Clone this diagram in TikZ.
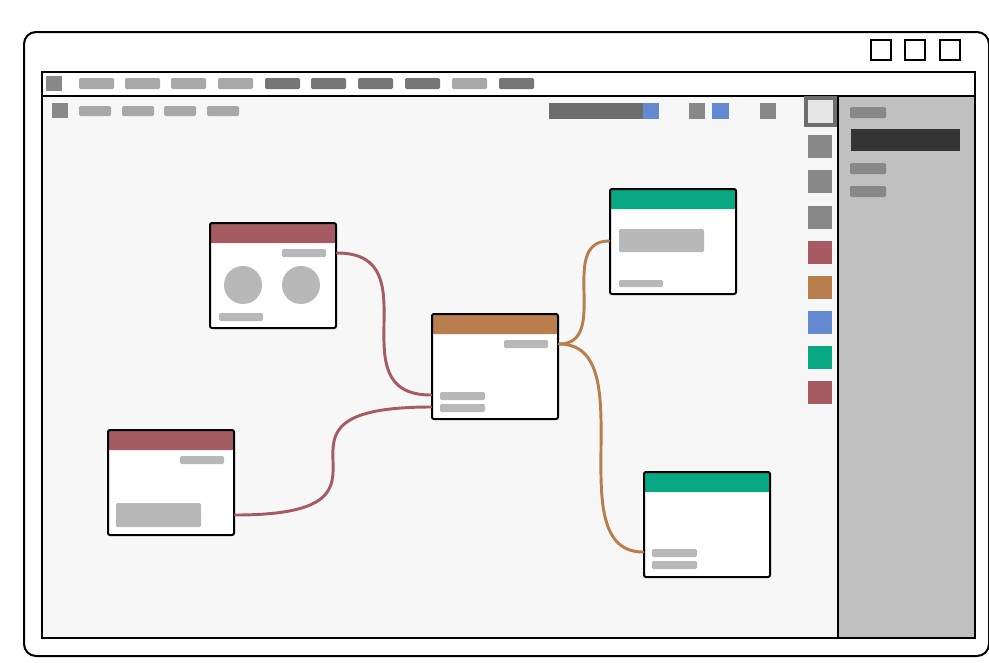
\documentclass[tikz,border=0pt]{standalone}
\usetikzlibrary{calc}
\definecolor{canvasbg}{HTML}{F7F7F7}
\definecolor{panelbg}{HTML}{C0C0C0}
\definecolor{menulight}{HTML}{A8A8A8}
\definecolor{menudark}{HTML}{767676}
\definecolor{toolgray}{HTML}{888888}
\definecolor{stubgray}{HTML}{B8B8B8}
\definecolor{barDark}{HTML}{6D6D6D}
\definecolor{panelDark}{HTML}{333333}
\definecolor{selfill}{HTML}{E6E6E6}
\definecolor{wred}{HTML}{A65A62}
\definecolor{worange}{HTML}{B87E4C}
\definecolor{wgreen}{HTML}{08A882}
\definecolor{wblue}{HTML}{6389D0}
\tikzset{
  px/.style={x=0.75pt,y=-0.75pt},
  chip/.style={fill=#1,rounded corners=1pt},
  card/.style={fill=white,draw=black,line width=1.5pt,rounded corners=1.5pt,
    minimum width=94.5pt,minimum height=78.75pt,anchor=north west,inner sep=0pt,
    path picture={\fill[#1] (path picture bounding box.north west) rectangle
      ([yshift=-15pt]path picture bounding box.north east);}},
  stub/.style={fill=stubgray,rounded corners=1pt},
  wire/.style={draw=#1,line width=2.2pt,line cap=round},
}
\begin{document}
\begin{tikzpicture}[px]
\useasboundingbox (0,0) rectangle (989,662);
% application window
\draw[line width=1.5pt,rounded corners=9pt,fill=white] (24,32) rectangle (989,656);
\foreach \bx in {871,905,940} \draw[line width=1pt] (\bx,40) rectangle ++(20,20);
% work area frame
\fill[canvasbg] (42,96) rectangle (838,638);
\fill[panelbg] (838,96) rectangle (975,638);
\draw[line width=1pt] (838,96) -- (838,638);
\draw[line width=1pt] (42,96) -- (975,96);
\draw[line width=1.5pt] (42,72) rectangle (975,638);
% menu bar
\fill[toolgray] (46,76) rectangle (62,91);
\foreach \mx/\mc in {79/menulight,125/menulight,171/menulight,218/menulight,265/menudark,311/menudark,358/menudark,405/menudark,452/menulight,499/menudark}
  \fill[chip=\mc] (\mx,78) rectangle ++(35,11);
% tool row
\fill[toolgray] (52,103) rectangle (68,118);
\foreach \tx in {79,122,164,207} \fill[chip=menulight] (\tx,106) rectangle ++(32,10);
\fill[barDark] (549,103) rectangle (643,119);
\fill[wblue] (643,103) rectangle (659,119);
\fill[toolgray] (689,103) rectangle (705,119);
\fill[wblue] (712,103) rectangle (729,119);
\fill[toolgray] (760,103) rectangle (776,119);
% palette
\draw[draw=barDark,line width=3.5pt,fill=selfill] (806,98) rectangle (835,125);
\foreach \py/\pc in {135/toolgray,170/toolgray,206/toolgray,241/wred,276/worange,311/wblue,346/wgreen,381/wred}
  \fill[\pc] (808,\py) rectangle ++(24,23);
% properties panel
\fill[chip=toolgray] (850,107) rectangle (886,118);
\fill[panelDark] (851,129) rectangle (960,151);
\fill[chip=toolgray] (850,163) rectangle (886,174);
\fill[chip=toolgray] (850,186) rectangle (886,197);
% graph nodes
\node[card=wred] (A) at (209,222) {};
\node[card=worange] (B) at (431,313) {};
\node[card=wred] (C) at (107,429) {};
\node[card=wgreen] (D) at (609,188) {};
\node[card=wgreen] (E) at (643,471) {};
% node contents
\fill[stub] (282,249) rectangle (326,257);
\fill[stubgray] (243,285) circle (19);
\fill[stubgray] (301,285) circle (19);
\fill[stub] (219,313) rectangle (263,321);
\fill[stub] (504,340) rectangle (548,348);
\fill[stub] (440,392) rectangle (485,400);
\fill[stub] (440,404) rectangle (485,412);
\fill[stub] (180,456) rectangle (224,464);
\fill[stub] (116,503) rectangle (201,527);
\fill[stub] (619,229) rectangle (704,252);
\fill[stub] (619,280) rectangle (663,287);
\fill[stub] (652,549) rectangle (697,557);
\fill[stub] (652,561) rectangle (697,569);
% connectors
\coordinate (aout) at ([shift={(0,31)}]A.north east);
\coordinate (bin1) at ([shift={(0,82)}]B.north west);
\coordinate (bin2) at ([shift={(0,94)}]B.north west);
\coordinate (cout) at ([shift={(0,86)}]C.north east);
\coordinate (bout) at ([shift={(0,31)}]B.north east);
\coordinate (din) at ([shift={(0,53)}]D.north west);
\coordinate (ein) at ([shift={(0,81)}]E.north west);
\draw[wire=wred] (aout) .. controls +(96,0) and +(-96,0) .. (bin1);
\draw[wire=wred] (cout) .. controls +(199,0) and +(-199,0) .. (bin2);
\draw[wire=worange] (bout) .. controls +(52,0) and +(-52,0) .. (din);
\draw[wire=worange] (bout) .. controls +(86,0) and +(-86,0) .. (ein);
\end{tikzpicture}
\end{document}
